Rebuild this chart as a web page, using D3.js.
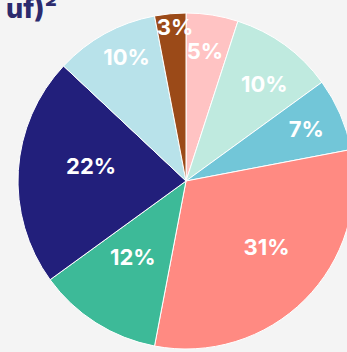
<!DOCTYPE html>
<html>
<head>
<meta charset="utf-8">
<script src="https://cdn.jsdelivr.net/npm/d3@7"></script>
<style>
  html, body { margin: 0; padding: 0; background: #f4f4f4; }
  svg { display: block; }
</style>
</head>
<body>
<svg id="chart" width="347" height="352"></svg>
<script>
// Share of each category, clockwise from 12 o'clock
const categories = ["A", "B", "C", "D", "E", "F", "G", "H"];
const shares = [5, 10, 7, 31, 12, 22, 10, 3];
const labels = ["5%", "10%", "7%", "31%", "12%", "22%", "10%", "3%"];
const colors = ["#ffc3c3", "#bfeadf", "#72c6d8", "#ff8a82", "#3dba98", "#221f7b", "#b8e2ea", "#9b4a18"];

// Label placement: radius from centre and angular nudge (degrees) per slice
const labelRadius = [131, 125, 131, 104, 93, 96, 137, 154];
const labelNudge = [-0.7, 2.8, 0, -5.8, 2.5, 5.1, 3.1, 1.3];

const width = 347, height = 352;
const cx = 186, cy = 181, R = 168;

const svg = d3.select("#chart");

svg.append("text")
  .attr("x", 6)
  .attr("y", 18)
  .attr("fill", "#2c2b6d")
  .attr("font-family", "Inter, sans-serif")
  .attr("font-weight", 800)
  .attr("font-size", 27)
  .text("uf)²");

const pie = d3.pie().sort(null).value(d => d);
const arcs = pie(shares);
const arc = d3.arc().innerRadius(0).outerRadius(R);

const g = svg.append("g").attr("transform", `translate(${cx},${cy})`);

g.selectAll("path")
  .data(arcs)
  .join("path")
  .attr("d", arc)
  .attr("fill", (d, i) => colors[i])
  .attr("stroke", "#ffffff")
  .attr("stroke-width", 1);

g.selectAll("text")
  .data(arcs)
  .join("text")
  .attr("transform", (d, i) => {
    const a = (d.startAngle + d.endAngle) / 2 + labelNudge[i] * Math.PI / 180;
    const r = labelRadius[i];
    return `translate(${r * Math.sin(a)},${-r * Math.cos(a)})`;
  })
  .attr("text-anchor", "middle")
  .attr("dy", "0.36em")
  .attr("fill", "#ffffff")
  .attr("font-family", "Inter, sans-serif")
  .attr("font-weight", 700)
  .attr("font-size", 22)
  .text((d, i) => labels[i]);
</script>
</body>
</html>
